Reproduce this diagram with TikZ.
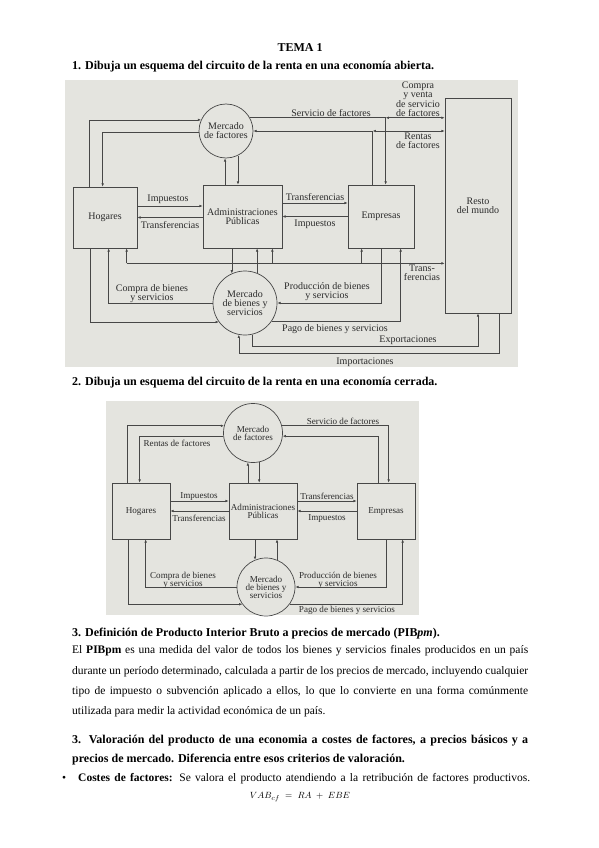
\documentclass[tikz,border=0pt]{standalone}
\usepackage{fontspec}
\setmainfont{Liberation Serif}
\usetikzlibrary{arrows.meta}
\definecolor{scan}{HTML}{E4E4DF}
\definecolor{ink}{HTML}{474747}
\definecolor{print}{HTML}{2B2B2B}

\begin{document}
\begin{tikzpicture}[x=1pt, y=-1pt,
    arr/.style={draw=ink, line width=0.6pt, -{Latex[length=3.2pt,width=2.6pt]}},
    both/.style={draw=ink, line width=0.6pt,
                 {Latex[length=3.2pt,width=2.6pt]}-{Latex[length=3.2pt,width=2.6pt]}},
    boxA/.style={draw=ink, line width=0.7pt, inner sep=0pt, align=center,
                 text=print, font=\fontsize{10}{9}\selectfont},
    mktA/.style={boxA, circle},
    lblA/.style={inner sep=0pt, align=center, text=print,
                 font=\fontsize{10}{9}\selectfont},
    boxB/.style={draw=ink, line width=0.7pt, inner sep=0pt, align=center,
                 text=print, font=\fontsize{9.1}{8}\selectfont},
    mktB/.style={boxB, circle},
    lblB/.style={inner sep=0pt, align=center, text=print,
                 font=\fontsize{9.1}{8}\selectfont},
    head/.style={anchor=west, inner sep=0pt, font=\bfseries\fontsize{12}{14}\selectfont},
    body/.style={anchor=west, inner sep=0pt, font=\fontsize{11.5}{13}\selectfont},
  ]
  \useasboundingbox (0,0) rectangle (599,848);

  % page text
  \node[head, anchor=center] (tema) at (300,48) {TEMA 1};
  \node[head] (q1) at (72,67) {1. Dibuja un esquema del circuito de la renta en una economía abierta.};

  % ---- open economy ----
  \fill[scan] (65,80) rectangle (518,367);
  \node[boxA, minimum width=64pt, minimum height=61pt] (hogA) at (105,217.5) {Hogares};
  \node[boxA, minimum width=79pt, minimum height=63pt] (apA) at (242.5,216.5) {Administraciones\\Públicas};
  \node[boxA, minimum width=66pt, minimum height=63pt] (empA) at (381,216.5) {Empresas};
  \node[boxA, minimum width=66pt, minimum height=215pt] (restoA) at (478,205.5) {Resto\\del mundo};
  \node[mktA, minimum size=54pt] (mfA) at (226,131) {Mercado\\de factores};
  \node[mktA, minimum size=64pt] (mbsA) at (245,303) {Mercado\\de bienes y\\servicios};

  \draw[arr] ([xshift=17pt]hogA.north west) |- (mfA.156);
  \draw[arr] (mfA.182) -| ([xshift=30pt]hogA.north west);
  \draw[arr] (mfA.268 |- apA.north) -- (mfA.268);
  \draw[arr] (mfA.296) -- (mfA.296 |- apA.north);
  \draw[arr] (mfA.29) -| ([xshift=38pt]empA.north west);
  \draw[arr] ([xshift=25pt]empA.north west) |- (mfA.east);
  \coordinate (sfA) at ([xshift=38pt]empA.north west |- mfA.29);
  \coordinate (rfA) at ([xshift=25pt]empA.north west |- mfA.east);
  \draw[both] (sfA) -- (sfA -| restoA.west);
  \draw[both] (rfA) -- (rfA -| restoA.west);

  \draw[arr] ([yshift=11.5pt]hogA.east) -- ([yshift=11.5pt]hogA.east -| apA.west);
  \draw[arr] (apA.west |- hogA.east) -- (hogA.east);
  \draw[arr] ([yshift=13.5pt]apA.east) -- ([yshift=13.5pt]apA.east -| empA.west);
  \draw[arr] (empA.west) -- (empA.west -| apA.east);

  \coordinate (trA) at ([xshift=54pt,yshift=-15pt]hogA.south west);
  \coordinate (apTr) at ([xshift=-10pt]apA.south east);
  \coordinate (emTr) at ([xshift=14pt]empA.south west);
  \draw[arr] (trA) -- (trA -| restoA.west);
  \draw[arr] (trA) -- (trA |- hogA.south);
  \draw[arr] (trA -| apTr) -- (apTr);
  \draw[arr] (trA -| emTr) -- (emTr);

  \draw[arr] (mbsA.114 |- apA.south) -- (mbsA.114);
  \draw[arr] (mbsA.68) -- (mbsA.68 |- apA.south);
  \draw[arr] ([xshift=34pt]empA.south west) |- (mbsA.east);
  \draw[arr] (mbsA.326) -| ([xshift=53pt]empA.south west);
  \draw[arr] (mbsA.west) -| ([xshift=36pt]hogA.south west);
  \draw[arr] ([xshift=18pt]hogA.south west) |- (mbsA.216);
  \draw[arr] (mbsA.283) -- ++(0,12) -| (restoA.south);
  \draw[arr] ([xshift=-12pt]restoA.south east) -- ++(0,40) -| (mbsA.259);

  \node[lblA] (lSfA) at (331,113) {Servicio de factores};
  \node[lblA] (lCvA) at (418,99) {Compra\\y venta\\de servicio\\de factores};
  \node[lblA] (lRfA) at (418,141) {Rentas\\de factores};
  \node[lblA] (lImA) at (168,199) {Impuestos};
  \node[lblA] (lTrA) at (170,225) {Transferencias};
  \node[lblA] (lTr2A) at (315,197) {Transferencias};
  \node[lblA] (lIm2A) at (315,224) {Impuestos};
  \node[lblA] (lTfA) at (422,273) {Trans-\\ferencias};
  \node[lblA] (lCbA) at (152,294) {Compra de bienes\\y servicios};
  \node[lblA] (lPbA) at (327,292) {Producción de bienes\\y servicios};
  \node[lblA] (lPgA) at (335,329) {Pago de bienes y servicios};
  \node[lblA] (lExA) at (408,340) {Exportaciones};
  \node[lblA] (lImpA) at (365,362) {Importaciones};

  \node[head] (q2) at (72,383) {2. Dibuja un esquema del circuito de la renta en una economía cerrada.};

  % ---- closed economy ----
  \fill[scan] (106,401) rectangle (419,615);
  \node[boxB, minimum width=58pt, minimum height=56pt] (hogB) at (141,511) {Hogares};
  \node[boxB, minimum width=68pt, minimum height=56pt] (apB) at (263,511) {Administraciones\\Públicas};
  \node[boxB, minimum width=58pt, minimum height=56pt] (empB) at (386,511) {Empresas};
  \node[mktB, minimum size=59pt] (mfB) at (253,433) {Mercado\\de factores};
  \node[mktB, minimum size=58pt] (mbsB) at (266,587) {Mercado\\de bienes y\\servicios};

  \draw[arr] ([xshift=16pt]hogB.north west) |- (mfB.166);
  \draw[arr] (mfB.186) -| ([xshift=28pt]hogB.north west);
  \draw[arr] (mfB.260 |- apB.north) -- (mfB.260);
  \draw[arr] (mfB.282) -- (mfB.282 |- apB.north);
  \draw[arr] (mfB.14) -| ([xshift=32pt]empB.north west);
  \draw[arr] ([xshift=22pt]empB.north west) |- (mfB.354);

  \draw[arr] ([yshift=10pt]hogB.east) -- ([yshift=10pt]hogB.east -| apB.west);
  \draw[arr] (apB.west |- hogB.east) -- (hogB.east);
  \draw[arr] ([yshift=10pt]apB.east) -- ([yshift=10pt]apB.east -| empB.west);
  \draw[arr] (empB.west) -- (empB.west -| apB.east);

  \draw[arr] (mbsB.west) -| ([xshift=34pt]hogB.south west);
  \draw[arr] ([xshift=17pt]hogB.south west) |- (mbsB.216);
  \draw[arr] (mbsB.112 |- apB.south) -- (mbsB.112);
  \draw[arr] (mbsB.68) -- (mbsB.68 |- apB.south);
  \draw[arr] (empB.south) |- (mbsB.east);
  \draw[arr] (mbsB.324) -| ([xshift=46pt]empB.south west);

  \node[lblB] (lRfB) at (177,443) {Rentas de factores};
  \node[lblB] (lSfB) at (343,421) {Servicio de factores};
  \node[lblB] (lImB) at (199,496) {Impuestos};
  \node[lblB] (lTrB) at (199,518) {Transferencias};
  \node[lblB] (lTr2B) at (327,496) {Transferencias};
  \node[lblB] (lIm2B) at (327,518) {Impuestos};
  \node[lblB] (lCbB) at (183,580) {Compra de bienes\\y servicios};
  \node[lblB] (lPbB) at (338,580) {Producción de bienes\\y servicios};
  \node[lblB] (lPgB) at (347,610) {Pago de bienes y servicios};

  % ---- definitions ----
  \node[head] (q3) at (72,634) {3. Definición de Producto Interior Bruto a precios de mercado (PIB\textit{pm}).};
  \node[body] (p1) at (72,651) {\makebox[456pt][s]{El \textbf{PIBpm} es una medida del valor de todos los bienes y servicios finales producidos en un país}};
  \node[body] (p2) at (72,672) {\makebox[456pt][s]{durante un período determinado, calculada a partir de los precios de mercado, incluyendo cualquier}};
  \node[body] (p3) at (72,692) {\makebox[456pt][s]{tipo de impuesto o subvención aplicado a ellos, lo que lo convierte en una forma comúnmente}};
  \node[body] (p4) at (72,712) {utilizada para medir la actividad económica de un país.};
  \node[head] (q4) at (72,741) {\makebox[456pt][s]{3. Valoración del producto de una economia a costes de factores, a precios básicos y a}};
  \node[head] (q4b) at (72,760) {precios de mercado. Diferencia entre esos criterios de valoración.};
  \node[body] (dot) at (62,779) {•};
  \node[body] (cf) at (78,779) {\makebox[452pt][s]{\textbf{Costes de factores:} Se valora el producto atendiendo a la retribución de factores productivos.}};
  \node[body, anchor=center, font=\fontsize{9.5}{10}\selectfont] (eq) at (300,797) {$VAB_{cf}\;=\;RA\;+\;EBE$};
\end{tikzpicture}
\end{document}
